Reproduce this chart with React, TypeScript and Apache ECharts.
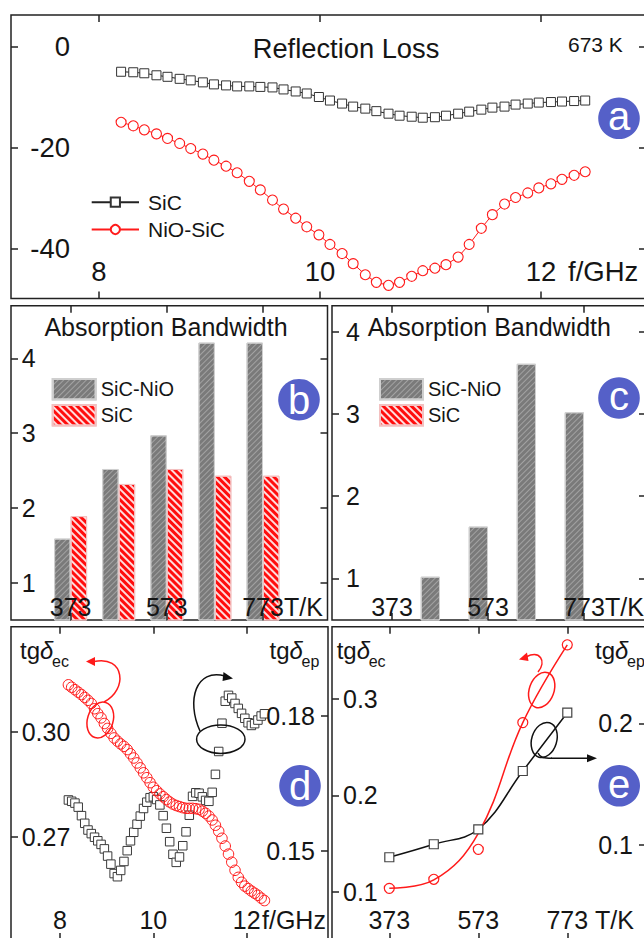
import React, { useEffect, useRef } from 'react';
import * as echarts from 'echarts';

const FONT = '"Liberation Sans", Arial, Helvetica, sans-serif';
const INK = '#151515';
const FRAME = '#222';
const RED = '#ff1a1a';
const BADGE = '#5560c8';

// ---------- panel a : reflection loss, 673 K ----------
const rlFreq = [8.2, 8.31, 8.41, 8.52, 8.62, 8.73, 8.83, 8.94, 9.04, 9.15, 9.25, 9.36, 9.46, 9.57, 9.67, 9.78, 9.88, 9.99, 10.09, 10.2, 10.3, 10.41, 10.51, 10.62, 10.72, 10.83, 10.93, 11.04, 11.14, 11.25, 11.35, 11.46, 11.56, 11.67, 11.77, 11.88, 11.98, 12.09, 12.19, 12.3, 12.4];
const rlSiC = [-5.0, -5.1, -5.3, -5.7, -6.0, -6.4, -6.7, -7.1, -7.5, -7.7, -7.9, -7.9, -8.0, -8.1, -8.5, -8.9, -9.3, -10.0, -10.7, -11.3, -11.9, -12.3, -12.8, -13.3, -13.7, -13.9, -14.1, -14.0, -13.7, -13.3, -12.9, -12.5, -12.1, -11.9, -11.5, -11.3, -11.1, -11.0, -10.9, -10.8, -10.7];
const rlNiOSiC = [-15.0, -15.7, -16.5, -17.3, -18.2, -19.2, -20.2, -21.3, -22.5, -23.7, -25.0, -26.7, -28.4, -30.4, -32.2, -34.0, -35.7, -37.3, -39.2, -41.0, -43.0, -45.2, -46.7, -47.3, -46.7, -45.5, -44.4, -43.9, -43.2, -41.7, -39.2, -36.0, -33.3, -31.2, -29.9, -29.0, -28.0, -27.2, -26.3, -25.5, -24.8];
const rlFreqTicks = [8, 10, 12];
const rlLossTicks = [0, -20, -40];

// ---------- panels b, c : absorption bandwidth ----------
const bwTemps = [373, 473, 573, 673, 773];
const bwTempTicks = [373, 573, 773];
const bwTicks = [1, 2, 3, 4];
const bwB_SiCNiO = [1.59, 2.52, 2.97, 4.21, 4.21];
const bwB_SiC = [1.89, 2.32, 2.52, 2.43, 2.43];
const bwC_SiCNiO = [0, 1.02, 1.63, 3.61, 3.02];
const bwC_SiC = [0, 0, 0, 0, 0];

// ---------- panel d : loss tangents vs frequency ----------
const dFreq = [8.18, 8.25, 8.32, 8.39, 8.46, 8.53, 8.6, 8.67, 8.74, 8.81,
  8.88, 8.95, 9.02, 9.09, 9.16, 9.23, 9.3, 9.37, 9.44, 9.51,
  9.58, 9.65, 9.72, 9.79, 9.86, 9.93, 10.0, 10.07, 10.14, 10.21,
  10.28, 10.35, 10.42, 10.49, 10.56, 10.63, 10.7, 10.77, 10.84, 10.91,
  10.98, 11.05, 11.12, 11.19, 11.26, 11.33, 11.4, 11.47, 11.54, 11.61,
  11.68, 11.75, 11.82, 11.89, 11.96, 12.03, 12.1, 12.17, 12.24, 12.31,
  12.38];
const dTgEc = [0.3133, 0.3126, 0.3119, 0.3112, 0.3105, 0.3097, 0.3089, 0.308, 0.3065, 0.3051,
  0.3039, 0.3023, 0.3009, 0.2995, 0.2982, 0.2973, 0.2965, 0.2958, 0.2949, 0.2937,
  0.2925, 0.2911, 0.2897, 0.2883, 0.2869, 0.2855, 0.2842, 0.2832, 0.2823, 0.2815,
  0.2807, 0.28, 0.2794, 0.279, 0.2787, 0.2784, 0.2782, 0.2782, 0.2782, 0.2781,
  0.2779, 0.2774, 0.2768, 0.276, 0.2749, 0.2734, 0.2717, 0.2697, 0.2675, 0.2652,
  0.2629, 0.2606, 0.2586, 0.2572, 0.2561, 0.2554, 0.2547, 0.2541, 0.2535, 0.2527,
  0.252];
const dTgEp = [0.1613, 0.161, 0.1606, 0.1597, 0.1578, 0.1561, 0.1546, 0.1538, 0.153, 0.1522,
  0.1514, 0.1504, 0.1488, 0.147, 0.1449, 0.1442, 0.1456, 0.1476, 0.15, 0.1522,
  0.1541, 0.1559, 0.1577, 0.1594, 0.1608, 0.1618, 0.162, 0.1614, 0.1602, 0.1578,
  0.155, 0.152, 0.1492, 0.1474, 0.1486, 0.1511, 0.1542, 0.1579, 0.1621, 0.1629,
  0.1628, 0.162, 0.1612, 0.161, 0.163, 0.167, 0.1721, 0.1784, 0.1833, 0.1846,
  0.184, 0.1828, 0.1817, 0.1806, 0.1795, 0.1785, 0.1779, 0.1783, 0.1791, 0.18,
  0.1805];
const dFreqTicks = [8, 10, 12];
const dEcTicks = [0.27, 0.3];
const dEpTicks = [0.15, 0.18];

// ---------- panel e : loss tangents vs temperature ----------
const eTemps = [373, 473, 573, 673, 773];
const eTgEc = [0.1035, 0.1129, 0.144, 0.2755, 0.3562];
const eTgEcFit = [0.1035, 0.1122, 0.1606, 0.2755, 0.3562];
const eTgEp = [0.0899, 0.1006, 0.1129, 0.1608, 0.2087];
const eTempTicks = [373, 573, 773];
const eEcTicks = [0.1, 0.2, 0.3];
const eEpTicks = [0.1, 0.2];

const zip = (xs: number[], ys: number[]) => xs.map((x, i) => [x, ys[i]]);

function axis(o: any) {
  return {
    type: 'value',
    gridIndex: o.grid,
    position: o.position,
    min: o.min,
    max: o.max,
    z: 10,
    axisLine: { show: false, onZero: false },
    splitLine: { show: false },
    axisTick: { show: true, inside: true, length: 7, customValues: o.ticks, lineStyle: { color: FRAME, width: 1.5 } },
    axisLabel: o.label
      ? { show: true, inside: true, customValues: o.ticks, color: INK, fontFamily: FONT, fontSize: 25, ...o.label }
      : { show: false },
  };
}

const txt = (text: string, x: number, y: number, size: number, align = 'left', extra: any = {}) => ({
  type: 'text', x, y, z: 60,
  style: { text, fill: INK, fontSize: size, fontFamily: FONT, align, verticalAlign: 'middle', ...extra },
});

const badge = (letter: string, cx: number, cy: number) => [
  { type: 'circle', z: 60, shape: { cx, cy, r: 20.8 }, style: { fill: BADGE } },
  { type: 'text', z: 61, x: cx, y: cy + (letter === 'b' || letter === 'd' ? 0 : -2), style: { text: letter, fill: '#fff', fontSize: 40, fontFamily: FONT, align: 'center', verticalAlign: 'middle' } },
];

const tgLabel = (x: number, sub: string) => [
  txt('tg', x, 650, 24),
  txt('δ', x + 20, 650, 24, 'left', { fontStyle: 'italic' }),
  txt(sub, x + 32, 661, 16),
];

const ellipse = (cx: number, cy: number, rx: number, ry: number, rot: number, color: string) => ({
  type: 'ellipse', z: 60, x: cx, y: cy, rotation: rot,
  shape: { cx: 0, cy: 0, rx, ry }, style: { fill: null, stroke: color, lineWidth: 1.5 },
});

const curve = (p: number[], color: string) => ({
  type: 'bezierCurve', z: 60,
  shape: { x1: p[0], y1: p[1], cpx1: p[2], cpy1: p[3], cpx2: p[4], cpy2: p[5], x2: p[6], y2: p[7] },
  style: { fill: null, stroke: color, lineWidth: 1.5 },
});

const head = (pts: number[][], color: string) => ({
  type: 'polygon', z: 60, shape: { points: pts }, style: { fill: color, stroke: null },
});

function buildOption() {
  const grids = [
    { left: 11, top: 15, width: 635, height: 283.5 },
    { left: 11, top: 305.7, width: 316.5, height: 314.3 },
    { left: 332, top: 305.7, width: 314, height: 314.3 },
    { left: 11, top: 626.7, width: 317, height: 313.3 },
    { left: 332, top: 626.7, width: 314, height: 313.3 },
  ].map((g) => ({ ...g, show: true, borderColor: FRAME, borderWidth: 1.5, backgroundColor: 'transparent', containLabel: false, outerBoundsMode: 'none' }));

  const xAxis = [
    axis({ grid: 0, position: 'bottom', min: 7.2036, max: 12.9502, ticks: rlFreqTicks, label: { margin: 27.5, verticalAlign: 'middle', fontSize: 27.5 } }),
    axis({ grid: 0, position: 'top', min: 7.2036, max: 12.9502, ticks: rlFreqTicks }),
    axis({ grid: 1, position: 'bottom', min: 249.1, max: 907.1, ticks: bwTempTicks, label: { margin: 13, verticalAlign: 'middle' } }),
    axis({ grid: 1, position: 'top', min: 249.1, max: 907.1, ticks: bwTempTicks }),
    axis({ grid: 2, position: 'bottom', min: 248, max: 902.2, ticks: bwTempTicks, label: { margin: 13, verticalAlign: 'middle' } }),
    axis({ grid: 2, position: 'top', min: 248, max: 902.2, ticks: bwTempTicks }),
    axis({ grid: 3, position: 'bottom', min: 6.95, max: 13.742, ticks: dFreqTicks, label: { margin: 20, verticalAlign: 'middle' } }),
    axis({ grid: 3, position: 'top', min: 6.95, max: 13.742, ticks: dFreqTicks }),
    axis({ grid: 4, position: 'bottom', min: 244.2, max: 949.9, ticks: eTempTicks, label: { margin: 20, verticalAlign: 'middle' } }),
    axis({ grid: 4, position: 'top', min: 244.2, max: 949.9, ticks: eTempTicks }),
  ];
  const f2 = (v: number) => v.toFixed(2);
  const f1 = (v: number) => v.toFixed(1);
  const yAxis = [
    axis({ grid: 0, position: 'left', min: -49.9, max: 6.24, ticks: rlLossTicks, label: { margin: 59, align: 'right', fontSize: 27.5 } }),
    axis({ grid: 0, position: 'right', min: -49.9, max: 6.24, ticks: rlLossTicks }),
    axis({ grid: 1, position: 'left', min: 0.501, max: 4.703, ticks: bwTicks, label: { margin: 10.7, align: 'left' } }),
    axis({ grid: 1, position: 'right', min: 0.501, max: 4.703, ticks: bwTicks }),
    axis({ grid: 2, position: 'left', min: 0.493, max: 4.316, ticks: bwTicks, label: { margin: 14, align: 'left' } }),
    axis({ grid: 2, position: 'right', min: 0.493, max: 4.316, ticks: bwTicks }),
    axis({ grid: 3, position: 'left', min: 0.2408, max: 0.3298, ticks: dEcTicks, label: { margin: 10.7, align: 'left', formatter: f2 } }),
    axis({ grid: 3, position: 'right', min: 0.1301, max: 0.1999, ticks: dEpTicks, label: { margin: 13, align: 'right', formatter: f2 } }),
    axis({ grid: 4, position: 'left', min: 0.0499, max: 0.375, ticks: eEcTicks, label: { margin: 11, align: 'left', formatter: f1 } }),
    axis({ grid: 4, position: 'right', min: 0.0219, max: 0.2794, ticks: eEpTicks, label: { margin: 13, align: 'right', formatter: f1 } }),
  ];

  const grayDecal = { symbol: 'rect', symbolSize: 1, dashArrayX: [1, 0], dashArrayY: [1, 3], rotation: -Math.PI / 4, color: 'rgba(255,255,255,0.3)' };
  const redDecal = { symbol: 'rect', symbolSize: 1, dashArrayX: [1, 0], dashArrayY: [1.4, 2.8], rotation: Math.PI / 4, color: 'rgba(255,255,255,0.85)' };
  const grayStyle = { color: '#7a7a7a', borderColor: '#cfcfcf', borderWidth: 1, decal: grayDecal };
  const redStyle = { color: '#ff0d0d', borderColor: '#f3c0c0', borderWidth: 1, decal: redDecal };

  const series: any[] = [
    { name: 'SiC_a', type: 'line', xAxisIndex: 0, yAxisIndex: 0, data: zip(rlFreq, rlSiC), symbol: 'rect', symbolSize: 9,
      lineStyle: { color: '#222', width: 1 }, itemStyle: { color: '#fff', borderColor: '#333', borderWidth: 1 } },
    { name: 'NiO-SiC_a', type: 'line', xAxisIndex: 0, yAxisIndex: 0, data: zip(rlFreq, rlNiOSiC), symbol: 'circle', symbolSize: 10,
      lineStyle: { color: RED, width: 1 }, itemStyle: { color: '#fff', borderColor: RED, borderWidth: 1.1 } },

    { name: 'SiC-NiO_b', type: 'bar', xAxisIndex: 2, yAxisIndex: 2, data: zip(bwTemps, bwB_SiCNiO), barWidth: 16.5, barGap: '0%', itemStyle: grayStyle },
    { name: 'SiC_b', type: 'bar', xAxisIndex: 2, yAxisIndex: 2, data: zip(bwTemps, bwB_SiC), barWidth: 16.5, barGap: '0%', itemStyle: redStyle },

    { name: 'SiC-NiO_c', type: 'bar', xAxisIndex: 4, yAxisIndex: 4, data: zip(bwTemps, bwC_SiCNiO), barWidth: 19.3, barGap: '0%', itemStyle: grayStyle },
    { name: 'SiC_c', type: 'bar', xAxisIndex: 4, yAxisIndex: 4, data: zip(bwTemps, bwC_SiC), barWidth: 19.3, barGap: '0%', itemStyle: redStyle },

    { name: 'tgEp_d', type: 'scatter', xAxisIndex: 6, yAxisIndex: 7, data: zip(dFreq, dTgEp), symbol: 'rect', symbolSize: 8.5,
      itemStyle: { color: '#fff', borderColor: '#3a3a3a', borderWidth: 1, opacity: 1 } },
    { name: 'tgEc_d', type: 'scatter', xAxisIndex: 6, yAxisIndex: 6, data: zip(dFreq, dTgEc), symbol: 'circle', symbolSize: 10.5,
      itemStyle: { color: 'rgba(255,255,255,0)', borderColor: RED, borderWidth: 1, opacity: 1 } },

    { name: 'tgEp_e', type: 'line', xAxisIndex: 8, yAxisIndex: 9, data: zip(eTemps, eTgEp), smooth: 0.4, symbol: 'rect', symbolSize: 9,
      lineStyle: { color: '#111', width: 1.5 }, itemStyle: { color: '#fff', borderColor: '#444', borderWidth: 1.2 } },
    { name: 'tgEcFit_e', type: 'line', xAxisIndex: 8, yAxisIndex: 8, data: zip(eTemps, eTgEcFit), smooth: 0.4, symbol: 'none',
      lineStyle: { color: RED, width: 1.5 } },
    { name: 'tgEc_e', type: 'scatter', xAxisIndex: 8, yAxisIndex: 8, data: zip(eTemps, eTgEc), symbol: 'circle', symbolSize: 10,
      itemStyle: { color: '#fff', borderColor: RED, borderWidth: 1.2, opacity: 1 } },
  ];

  const legendText = { fontFamily: FONT, color: INK };
  const legend = [
    { data: ['SiC_a', 'NiO-SiC_a'], left: 90.7, top: 191.7, orient: 'vertical', padding: 0, itemWidth: 47.3, itemHeight: 11.5, itemGap: 6.3,
      selectedMode: false, formatter: (n: string) => n.split('_')[0], textStyle: { ...legendText, fontSize: 21, lineHeight: 20, padding: [0, 0, 0, 4] } },
    { data: ['SiC-NiO_b', 'SiC_b'], left: 51.7, top: 378, orient: 'vertical', padding: 0, itemWidth: 43, itemHeight: 20.5, itemGap: 3.5, icon: 'rect',
      selectedMode: false, formatter: (n: string) => n.split('_')[0], textStyle: { ...legendText, fontSize: 20, lineHeight: 20 } },
    { data: ['SiC-NiO_c', 'SiC_c'], left: 379, top: 378, orient: 'vertical', padding: 0, itemWidth: 43, itemHeight: 20.5, itemGap: 3.5, icon: 'rect',
      selectedMode: false, formatter: (n: string) => n.split('_')[0], textStyle: { ...legendText, fontSize: 20, lineHeight: 20 } },
  ];

  const graphic: any[] = [
    txt('Reflection Loss', 346, 48.3, 27.3, 'center'),
    txt('673 K', 568, 44.5, 21),
    txt('f/GHz', 568, 271, 27.5),
    txt('Absorption Bandwidth', 166, 327, 25, 'center'),
    txt('Absorption Bandwidth', 489.3, 327, 25, 'center'),
    txt('T/K', 284, 607, 25),
    txt('T/K', 605, 607, 25),
    txt('f/GHz', 262, 920, 25),
    txt('T/K', 595, 920, 25),
    ...tgLabel(20, 'ec'),
    ...tgLabel(269.5, 'ep'),
    ...tgLabel(336.7, 'ec'),
    ...tgLabel(595, 'ep'),
    ...badge('a', 619, 118.3),
    ...badge('b', 299, 399.7),
    ...badge('c', 619, 398),
    ...badge('d', 300, 785.8),
    ...badge('e', 619.2, 785.8),
    // panel d annotations
    ellipse(100.3, 720, 12.8, 18.3, -0.3, RED),
    curve([104, 702, 128, 690, 125, 655, 94, 661.5], RED),
    head([[86, 661.5], [95, 657], [95, 666]], RED),
    ellipse(220.8, 739.2, 24.2, 14.2, 0, '#111'),
    curve([200, 731, 186, 700, 196, 668, 225, 676], '#111'),
    head([[233, 678.5], [223.5, 672], [222.5, 681]], '#111'),
    // panel e annotations
    ellipse(541.7, 690, 12.3, 18.3, -0.35, RED),
    curve([538, 672, 547, 661, 540, 650, 526, 657], RED),
    head([[519, 659.5], [527, 652.5], [528.5, 661]], RED),
    ellipse(544.2, 740, 12.5, 18, -0.3, '#111'),
    curve([538, 753, 540, 758, 544, 758.3, 552, 758.3], '#111'),
    { type: 'line', z: 60, shape: { x1: 551, y1: 758.3, x2: 590, y2: 758.3 }, style: { stroke: '#111', lineWidth: 1.5 } },
    head([[597, 758.3], [587, 754.3], [587, 762.3]], '#111'),
  ];

  return {
    animation: false,
    backgroundColor: '#fff',
    textStyle: { fontFamily: FONT },
    grid: grids,
    xAxis,
    yAxis,
    legend,
    series,
    graphic,
  };
}

export default function App() {
  const ref = useRef<HTMLDivElement>(null);
  useEffect(() => {
    if (!ref.current) return;
    const chart = echarts.init(ref.current, null, { renderer: 'svg' });
    chart.setOption(buildOption() as any);
    return () => chart.dispose();
  }, []);
  return <div ref={ref} style={{ position: 'fixed', left: 0, top: 0, width: 644, height: 938, background: '#fff' }} />;
}
